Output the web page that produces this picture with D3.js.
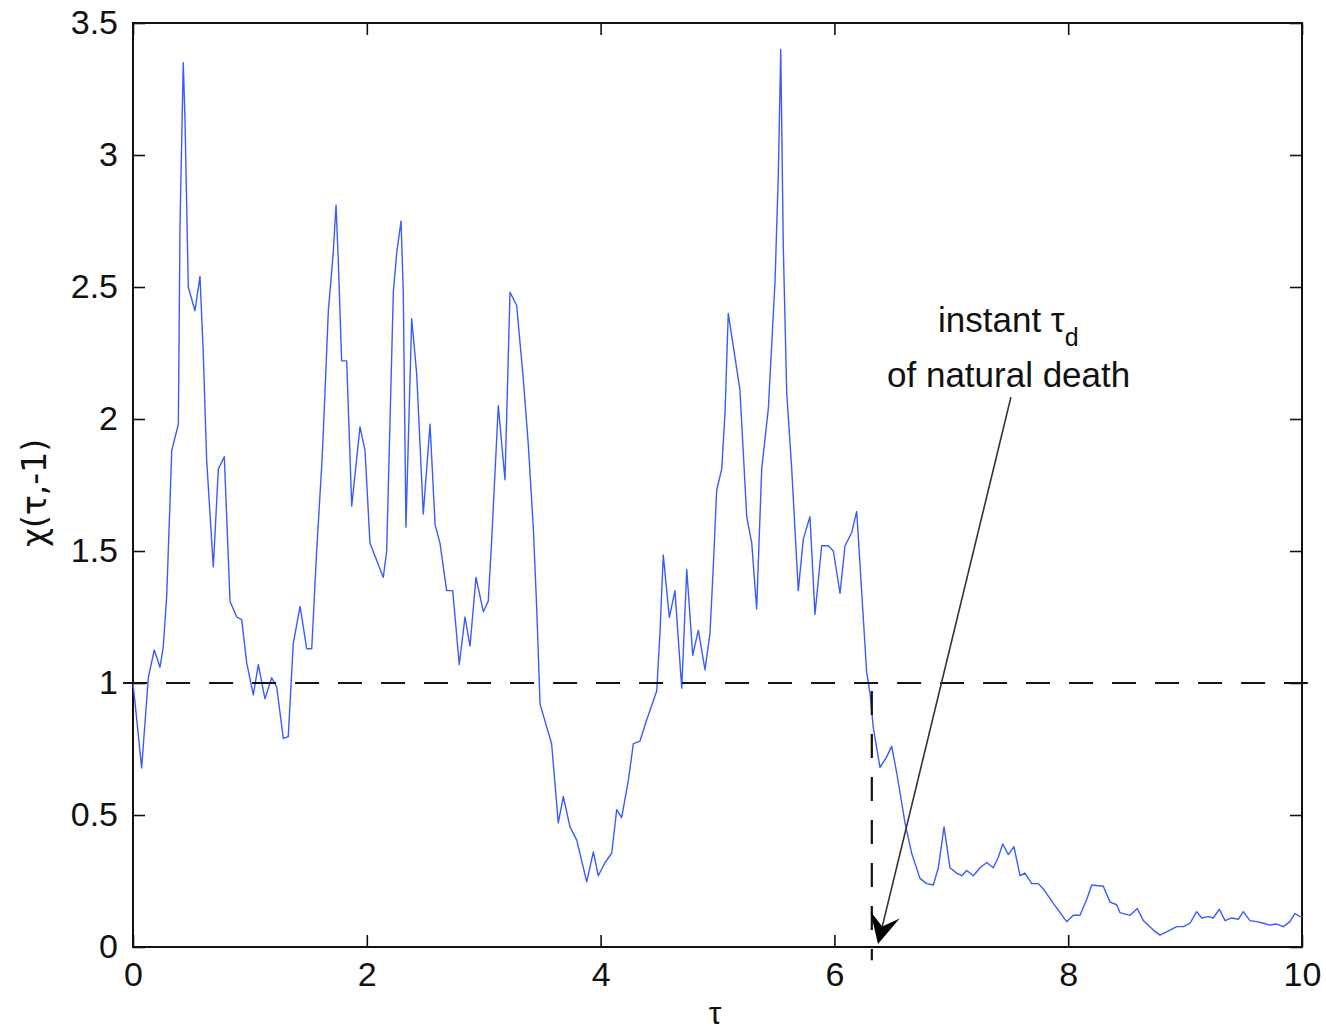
<!DOCTYPE html>
<html>
<head>
<meta charset="utf-8">
<style>
  body { margin: 0; background: #fff; }
  text { font-family: "Liberation Sans", Arial, sans-serif; fill: #111; }
</style>
<script src="https://d3js.org/d3.v7.min.js"></script>
</head>
<body>
<svg width="1326" height="1033"></svg>
<script>
// tau values (x) and chi(tau,-1) values (y)
var tau = [0, 0.074, 0.131, 0.182, 0.231, 0.259, 0.288, 0.317, 0.331, 0.388, 0.402, 0.430, 0.445, 0.473, 0.530, 0.573, 0.601, 0.630,
  0.687, 0.730, 0.781, 0.830, 0.887, 0.930, 0.973, 1.029, 1.072, 1.129, 1.186, 1.229, 1.286, 1.328, 1.371, 1.429, 1.486, 1.529,
  1.571, 1.614, 1.628, 1.671, 1.713, 1.737, 1.756, 1.785, 1.828, 1.871, 1.942, 1.985, 2.027, 2.141, 2.170, 2.227, 2.256, 2.293,
  2.312, 2.335, 2.384, 2.427, 2.483, 2.541, 2.584, 2.626, 2.683, 2.735, 2.791, 2.840, 2.883, 2.934, 2.997, 3.039, 3.068, 3.125,
  3.182, 3.225, 3.282, 3.339, 3.382, 3.424, 3.453, 3.482, 3.581, 3.638, 3.681, 3.738, 3.796, 3.881, 3.938, 3.980, 4.038, 4.095,
  4.138, 4.180, 4.237, 4.280, 4.337, 4.394, 4.480, 4.508, 4.536, 4.588, 4.636, 4.694, 4.737, 4.788, 4.836, 4.893, 4.936, 4.964,
  4.993, 5.036, 5.064, 5.092, 5.192, 5.250, 5.293, 5.335, 5.378, 5.435, 5.492, 5.520, 5.541, 5.563, 5.592, 5.635, 5.691, 5.734,
  5.791, 5.834, 5.891, 5.948, 5.991, 6.048, 6.091, 6.148, 6.191, 6.276, 6.305, 6.333, 6.390, 6.447, 6.490, 6.533, 6.604, 6.661,
  6.732, 6.790, 6.846, 6.889, 6.938, 6.989, 7.046, 7.089, 7.132, 7.188, 7.246, 7.303, 7.359, 7.402, 7.440, 7.488, 7.536, 7.588,
  7.630, 7.688, 7.744, 7.787, 7.873, 7.987, 8.044, 8.101, 8.158, 8.201, 8.300, 8.358, 8.415, 8.443, 8.529, 8.591, 8.643, 8.728,
  8.785, 8.871, 8.928, 8.985, 9.042, 9.099, 9.142, 9.199, 9.242, 9.293, 9.342, 9.399, 9.455, 9.498, 9.555, 9.612, 9.669, 9.726,
  9.783, 9.840, 9.897, 9.940, 9.983, 10];
var chi = [1.00, 0.678, 1.02, 1.125, 1.06, 1.137, 1.327, 1.69, 1.88, 1.98, 2.73, 3.35, 3.13, 2.50, 2.41, 2.54, 2.25, 1.845,
  1.44, 1.81, 1.857, 1.31, 1.25, 1.24, 1.075, 0.955, 1.07, 0.94, 1.02, 0.985, 0.79, 0.797, 1.15, 1.29, 1.13, 1.13,
  1.50, 1.82, 1.95, 2.41, 2.63, 2.81, 2.60, 2.22, 2.22, 1.67, 1.97, 1.88, 1.53, 1.40, 1.50, 2.48, 2.63, 2.75,
  2.48, 1.59, 2.38, 2.17, 1.64, 1.98, 1.60, 1.53, 1.35, 1.35, 1.07, 1.25, 1.14, 1.40, 1.27, 1.31, 1.54, 2.05,
  1.77, 2.48, 2.43, 2.15, 1.90, 1.59, 1.29, 0.92, 0.77, 0.47, 0.57, 0.455, 0.405, 0.247, 0.36, 0.27, 0.32, 0.355,
  0.52, 0.49, 0.63, 0.77, 0.78, 0.86, 0.97, 1.19, 1.485, 1.248, 1.35, 0.98, 1.43, 1.105, 1.20, 1.05, 1.19, 1.44,
  1.73, 1.81, 2.02, 2.40, 2.11, 1.63, 1.53, 1.28, 1.81, 2.04, 2.52, 2.92, 3.40, 2.65, 2.10, 1.81, 1.35, 1.545,
  1.63, 1.26, 1.52, 1.52, 1.50, 1.34, 1.52, 1.57, 1.65, 1.04, 0.96, 0.83, 0.68, 0.72, 0.76, 0.66, 0.47, 0.355,
  0.26, 0.24, 0.235, 0.30, 0.455, 0.30, 0.28, 0.27, 0.29, 0.27, 0.30, 0.32, 0.30, 0.34, 0.39, 0.35, 0.38, 0.27,
  0.28, 0.24, 0.24, 0.22, 0.165, 0.096, 0.12, 0.12, 0.18, 0.235, 0.23, 0.17, 0.16, 0.13, 0.12, 0.146, 0.10, 0.064,
  0.045, 0.064, 0.077, 0.077, 0.09, 0.134, 0.11, 0.115, 0.11, 0.143, 0.10, 0.11, 0.105, 0.134, 0.10, 0.096, 0.09, 0.083,
  0.087, 0.077, 0.096, 0.127, 0.115, 0.115];

var xTicks = [0, 2, 4, 6, 8, 10];
var yTicks = [0, 0.5, 1, 1.5, 2, 2.5, 3, 3.5];

var threshold = 1;      // dashed level chi = 1
var tauDeath = 6.32;    // instant of natural death
var arrowFrom = [7.51, 2.083];
var arrowTo = [6.373, 0.011];

var svg = d3.select("svg"),
    plotL = 133, plotT = 23, plotR = 1302, plotB = 947;

var x = d3.scaleLinear().domain([0, 10]).range([plotL, plotR]);
var y = d3.scaleLinear().domain([0, 3.5]).range([plotB, plotT]);
var fmt = d3.format("~g");

// axes, MATLAB style: ticks point inward on all four sides
function styleAxis(g) {
  g.select(".domain").remove();
  g.selectAll(".tick line").attr("stroke", "#111").attr("stroke-width", 1.6);
  g.selectAll(".tick text").attr("font-size", "34px").attr("fill", "#111");
}

svg.append("g").attr("transform", "translate(0," + plotB + ")")
  .call(d3.axisBottom(x).tickValues(xTicks).tickFormat(fmt).tickSize(-12).tickPadding(15))
  .call(styleAxis);
svg.append("g").attr("transform", "translate(0," + plotT + ")")
  .call(d3.axisTop(x).tickValues(xTicks).tickFormat("").tickSize(-12))
  .call(styleAxis);
svg.append("g").attr("transform", "translate(" + plotL + ",0)")
  .call(d3.axisLeft(y).tickValues(yTicks).tickFormat(fmt).tickSize(-12).tickPadding(15))
  .call(styleAxis);
svg.append("g").attr("transform", "translate(" + plotR + ",0)")
  .call(d3.axisRight(y).tickValues(yTicks).tickFormat("").tickSize(-12))
  .call(styleAxis);

svg.append("rect")
  .attr("x", plotL).attr("y", plotT)
  .attr("width", plotR - plotL).attr("height", plotB - plotT)
  .attr("fill", "none").attr("stroke", "#111").attr("stroke-width", 2);

// the curve
var data = tau.map(function(t, i) { return [t, chi[i]]; });
svg.append("path")
  .datum(data)
  .attr("fill", "none")
  .attr("stroke", "#3a5cff")
  .attr("stroke-width", 1.4)
  .attr("stroke-linejoin", "round")
  .attr("d", d3.line().x(function(d) { return x(d[0]); }).y(function(d) { return y(d[1]); }));

// dashed level line and dashed drop at tau_d
svg.append("line")
  .attr("x1", x(-0.085)).attr("x2", x(10.05))
  .attr("y1", y(threshold)).attr("y2", y(threshold))
  .attr("stroke", "#111").attr("stroke-width", 2.2).attr("stroke-dasharray", "24,19");
svg.append("line")
  .attr("x1", x(tauDeath)).attr("x2", x(tauDeath))
  .attr("y1", y(threshold) + 8).attr("y2", y(-0.05))
  .attr("stroke", "#111").attr("stroke-width", 2.2).attr("stroke-dasharray", "24,19");

// annotation arrow
var ax0 = x(arrowFrom[0]), ay0 = y(arrowFrom[1]), ax1 = x(arrowTo[0]), ay1 = y(arrowTo[1]);
var ang = Math.atan2(ay1 - ay0, ax1 - ax0);
var headLen = 30, headW = 15, notch = 18;
svg.append("line")
  .attr("x1", ax0).attr("y1", ay0)
  .attr("x2", ax1 - Math.cos(ang) * notch).attr("y2", ay1 - Math.sin(ang) * notch)
  .attr("stroke", "#333").attr("stroke-width", 1.6);
function pt(along, across) {
  return [ax1 - Math.cos(ang) * along - Math.sin(ang) * across,
          ay1 - Math.sin(ang) * along + Math.cos(ang) * across];
}
svg.append("polygon")
  .attr("points", [pt(0, 0), pt(headLen, headW), pt(notch, 0), pt(headLen, -headW)].map(function(p) { return p.join(","); }).join(" "))
  .attr("fill", "#000");

// annotation text
var t1 = svg.append("text").attr("x", 938).attr("y", 332).attr("font-size", "35px");
t1.append("tspan").text("instant τ");
t1.append("tspan").attr("font-size", "25px").attr("dy", 14).text("d");
svg.append("text").attr("x", 887).attr("y", 387).attr("font-size", "35px").text("of natural death");

// axis labels
svg.append("text")
  .attr("x", 715).attr("y", 1024)
  .attr("text-anchor", "middle").attr("font-size", "32px")
  .text("τ");
svg.append("text")
  .attr("transform", "translate(46,493) rotate(-90)")
  .attr("text-anchor", "middle").attr("font-size", "33px")
  .style("font-family", "'DejaVu Sans', sans-serif")
  .text("χ(τ,-1)");
</script>
</body>
</html>
